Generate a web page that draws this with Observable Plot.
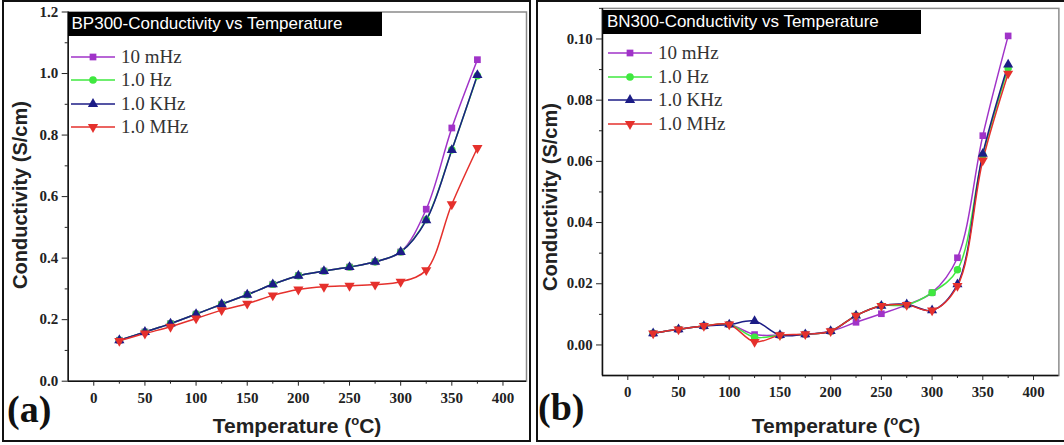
<!DOCTYPE html>
<html>
<head>
<meta charset="utf-8">
<script src="https://cdn.jsdelivr.net/npm/d3@7"></script>
<script src="https://cdn.jsdelivr.net/npm/@observablehq/plot@0.6"></script>
<style>
  html, body { margin: 0; padding: 0; background: #fff; }
  body { width: 1064px; height: 445px; overflow: hidden; position: relative; }
  .abs { position: absolute; }
  .frame { position: absolute; border: 2px solid #111; box-sizing: border-box; }
  .tbox { position: absolute; background: #000; color: #fff; font-family: "Liberation Sans", Arial, sans-serif; font-size: 17px; line-height: 24px; padding: 0 4px; white-space: nowrap; }
  .leg { position: absolute; font-family: "Liberation Serif", "Times New Roman", serif; font-size: 19px; color: #333; }
  .leg .row { position: absolute; left: 0; height: 20px; display: flex; align-items: center; white-space: nowrap; }
  .leg svg { margin-right: 4px; }
  .xt { position: absolute; font-family: "Liberation Sans", Arial, sans-serif; font-weight: bold; font-size: 21px; color: #222; white-space: nowrap; transform: translateX(-50%); }
  .xt sup { font-size: 13px; }
  .yt { position: absolute; font-family: "Liberation Sans", Arial, sans-serif; font-weight: bold; font-size: 20px; color: #222; white-space: nowrap; transform: translate(-50%, -50%) rotate(-90deg); }
  .pl { position: absolute; font-family: "Liberation Serif", "Times New Roman", serif; font-weight: bold; font-size: 38px; color: #111; line-height: 1; }
</style>
</head>
<body>
<div class="frame" style="left:2px; top:0px; width:529px; height:442px;"></div>
<div class="frame" style="left:536px; top:0px; width:540px; height:442px;"></div>
<div id="plotA" class="abs" style="left:0; top:0;"></div>
<div id="plotB" class="abs" style="left:532px; top:0;"></div>
<script>
// ---------------- data ----------------
const temps = [25, 50, 75, 100, 125, 150, 175, 200, 225, 250, 275, 300, 325, 350, 375];
const seriesNames = ["10 mHz", "1.0 Hz", "1.0 KHz", "1.0 MHz"];
const seriesColors = ["#a033c8", "#3fe83f", "#1c1c86", "#e5302c"];
const seriesSymbols = ["square", "circle", "triangle", "triangle"];
const seriesRotate = [0, 0, 0, 180];

// Panel (a): BP300
const bp_10mHz = [0.133, 0.160, 0.187, 0.218, 0.250, 0.281, 0.315, 0.343, 0.358, 0.371, 0.388, 0.420, 0.559, 0.823, 1.045];
const bp_1Hz   = [0.133, 0.160, 0.187, 0.218, 0.250, 0.281, 0.315, 0.343, 0.358, 0.371, 0.388, 0.420, 0.525, 0.752, 0.993];
const bp_1kHz  = [0.133, 0.160, 0.187, 0.218, 0.250, 0.281, 0.315, 0.343, 0.358, 0.371, 0.388, 0.420, 0.523, 0.751, 0.995];
const bp_1MHz  = [0.131, 0.155, 0.177, 0.204, 0.231, 0.252, 0.279, 0.298, 0.307, 0.310, 0.314, 0.323, 0.361, 0.575, 0.758];

// Panel (b): BN300
const bn_10mHz = [0.0038, 0.0051, 0.0062, 0.0067, 0.0034, 0.0032, 0.0035, 0.0045, 0.0074, 0.0102, 0.0131, 0.0171, 0.0285, 0.0684, 0.1010];
const bn_1Hz   = [0.0038, 0.0051, 0.0062, 0.0067, 0.0025, 0.0032, 0.0035, 0.0045, 0.0096, 0.0128, 0.0131, 0.0171, 0.0246, 0.0620, 0.0905];
const bn_1kHz  = [0.0038, 0.0051, 0.0062, 0.0067, 0.0078, 0.0032, 0.0035, 0.0045, 0.0096, 0.0128, 0.0133, 0.0113, 0.0198, 0.0625, 0.0916];
const bn_1MHz  = [0.0038, 0.0051, 0.0062, 0.0067, 0.0010, 0.0032, 0.0035, 0.0045, 0.0096, 0.0128, 0.0131, 0.0113, 0.0193, 0.0603, 0.0887];

// ticks
const xTicksMajor = [0, 50, 100, 150, 200, 250, 300, 350, 400];
const xTicksMinor = [25, 75, 125, 175, 225, 275, 325, 375];
const yTicksA = [0.0, 0.2, 0.4, 0.6, 0.8, 1.0, 1.2];
const yMinorA = [0.1, 0.3, 0.5, 0.7, 0.9, 1.1];
const yTicksB = [0.00, 0.02, 0.04, 0.06, 0.08, 0.10];
const yMinorB = [0.01, 0.03, 0.05, 0.07, 0.09, 0.11];

const titles = ["BP300-Conductivity vs Temperature", "BN300-Conductivity vs Temperature"];
const xLabel = "Temperature";
const yLabel = "Conductivity (S/cm)";
const panelLabels = ["(a)", "(b)"];

// ---------------- build ----------------
function table(seriesValues) {
  const rows = [];
  seriesValues.forEach((vals, s) => {
    vals.forEach((v, i) => rows.push({ s, name: seriesNames[s], t: temps[i], v }));
  });
  return rows;
}

function makePlot(seriesValues, opts) {
  const rows = table(seriesValues);
  const marks = [
    Plot.frame({ stroke: "#8a8a8a", strokeWidth: 1.5 }),
    Plot.ruleX([opts.xDomain[0]], { stroke: "#111", strokeWidth: 1.5 }),
    Plot.ruleY([opts.yDomain[0]], { stroke: "#111", strokeWidth: 1.5 }),
    Plot.axisX({ ticks: xTicksMajor, tickSize: 5, tickPadding: 6, tickFormat: d => String(d), label: null }),
    Plot.axisX({ ticks: xTicksMinor, tickSize: 3, tickFormat: () => "", label: null }),
    Plot.axisY({ ticks: opts.yTicks, tickSize: 6, tickPadding: 4, tickFormat: opts.yFormat, label: null }),
    Plot.axisY({ ticks: opts.yMinor, tickSize: 3, tickFormat: () => "", label: null })
  ];
  seriesNames.forEach((n, s) => {
    const d = rows.filter(r => r.s === s);
    marks.push(Plot.line(d, { x: "t", y: "v", stroke: seriesColors[s], strokeWidth: 1.5, curve: "catmull-rom" }));
  });
  seriesNames.forEach((n, s) => {
    const d = rows.filter(r => r.s === s);
    marks.push(Plot.dot(d, { x: "t", y: "v", fill: seriesColors[s], stroke: "none", symbol: seriesSymbols[s], r: 3.8, rotate: seriesRotate[s] }));
  });
  return Plot.plot({
    width: opts.width, height: 445,
    marginLeft: opts.ml, marginRight: opts.mr, marginTop: opts.mt, marginBottom: opts.mb,
    x: { domain: opts.xDomain },
    y: { domain: opts.yDomain },
    style: { fontFamily: "'Liberation Serif', 'Times New Roman', serif", fontSize: "15px", fontWeight: "bold", color: "#222", background: "transparent", overflow: "visible" },
    marks
  });
}

document.getElementById("plotA").appendChild(makePlot([bp_10mHz, bp_1Hz, bp_1kHz, bp_1MHz], {
  width: 532, ml: 67.7, mr: 6, mt: 11.5, mb: 64.3,
  xDomain: [-25, 423], yDomain: [0, 1.2], yTicks: yTicksA, yMinor: yMinorA, yFormat: d3.format(".1f")
}));
document.getElementById("plotB").appendChild(makePlot([bn_10mHz, bn_1Hz, bn_1kHz, bn_1MHz], {
  width: 540, ml: 71, mr: 5.7, mt: 8, mb: 64.3,
  xDomain: [-25, 425], yDomain: [-0.01, 0.11], yTicks: yTicksB, yMinor: yMinorB, yFormat: d3.format(".2f")
}));

// ---------------- overlays (titles, legends, labels) ----------------
function addDiv(cls, style, html) {
  const d = document.createElement("div");
  d.className = cls;
  d.setAttribute("style", style);
  d.innerHTML = html;
  document.body.appendChild(d);
  return d;
}
function legendHTML(rowYs) {
  let h = "";
  seriesNames.forEach((n, s) => {
    const sym = d3.symbol(s === 0 ? d3.symbolSquare : s === 1 ? d3.symbolCircle : d3.symbolTriangle, Math.PI * 3.8 * 3.8)();
    const rot = seriesRotate[s] ? ` rotate(${seriesRotate[s]})` : "";
    h += `<div class="row" style="top:${rowYs[s] - 10}px"><svg width="46" height="14"><line x1="0" x2="44" y1="7" y2="7" stroke="${seriesColors[s]}" stroke-width="1.6"/><path d="${sym}" transform="translate(22,7)${rot}" fill="${seriesColors[s]}"/></svg><span>${n}</span></div>`;
  });
  return h;
}

// Panel (a)
addDiv("tbox", "left:67.5px; top:12px; width:306px;", titles[0]);
addDiv("leg", "left:71px; top:0px;", legendHTML([57, 80, 104, 127]));
addDiv("xt", "left:297px; top:413px;", `${xLabel} (<sup>o</sup>C)`);
addDiv("yt", "left:20px; top:195px;", yLabel);
addDiv("pl", "left:7px; top:390px;", panelLabels[0]);

// Panel (b)
addDiv("tbox", "left:603px; top:10px; width:310px;", titles[1]);
addDiv("leg", "left:608px; top:0px;", legendHTML([53, 77, 100, 124]));
addDiv("xt", "left:836px; top:413px;", `${xLabel} (<sup>o</sup>C)`);
addDiv("yt", "left:550px; top:197px;", yLabel);
addDiv("pl", "left:538px; top:388px;", panelLabels[1]);
</script>
</body>
</html>
